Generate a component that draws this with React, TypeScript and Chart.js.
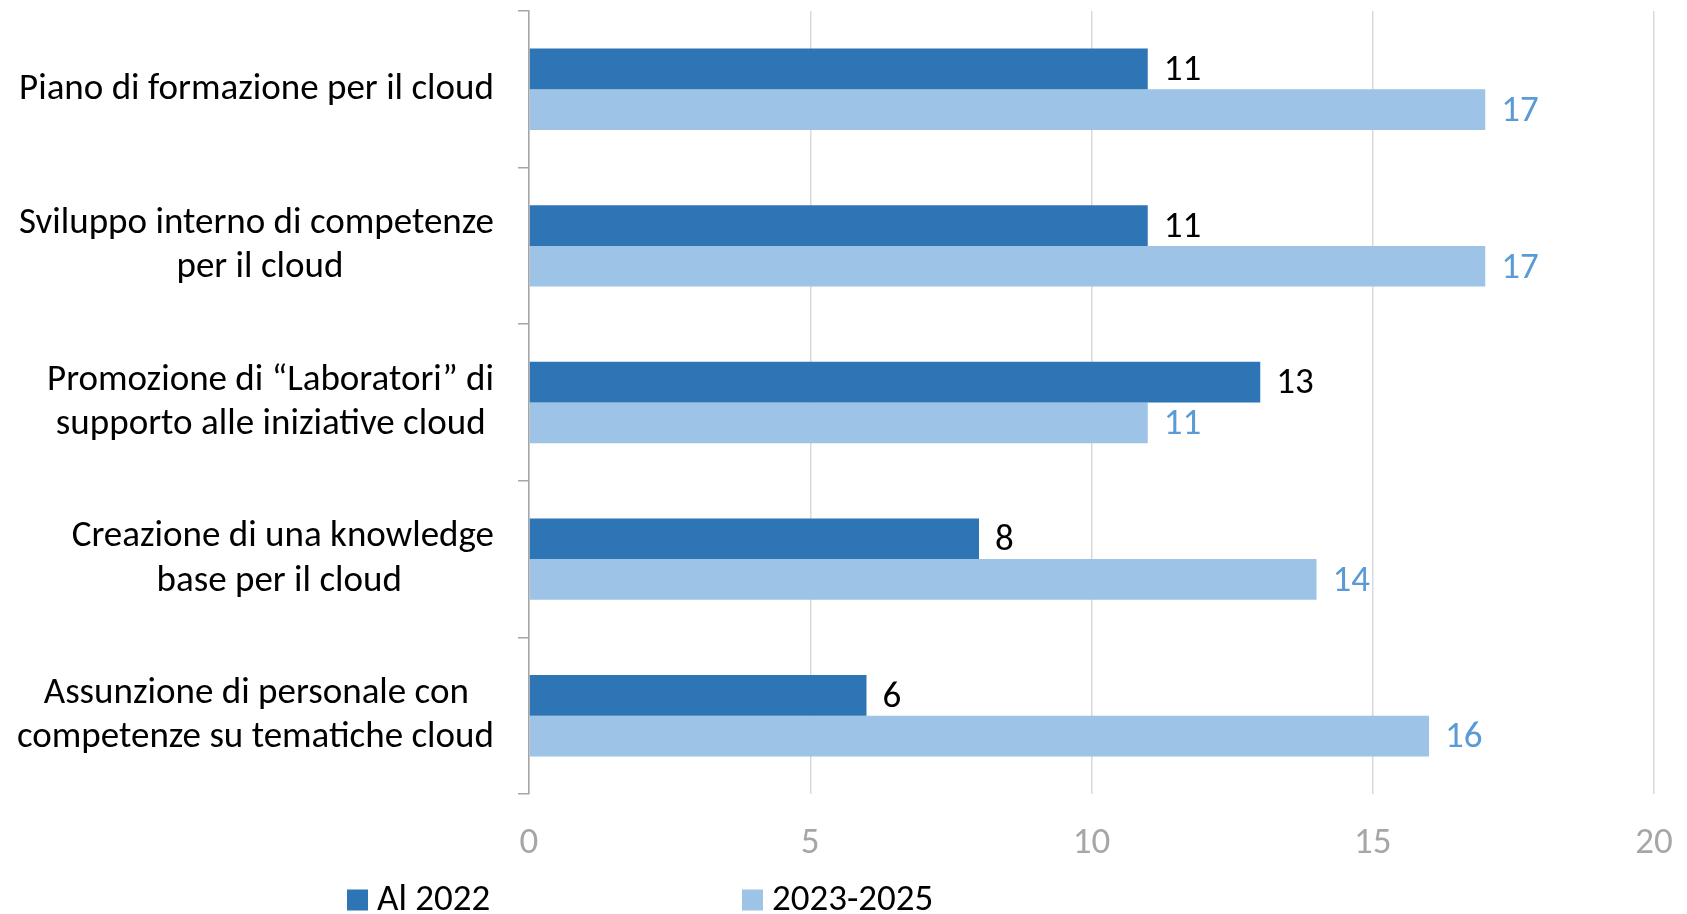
import React, { useEffect, useRef } from "react";
import { Chart, registerables } from "chart.js";

Chart.register(...registerables);

// ---- data ----
const categories: string[][] = [
  ["Piano di formazione per il cloud"],
  ["Sviluppo interno di competenze", "per il cloud"],
  ["Promozione di \u201CLaboratori\u201D di", "supporto alle iniziative cloud"],
  ["Creazione di una knowledge", "base per il cloud"],
  ["Assunzione di personale con", "competenze su tematiche cloud"],
];
const seriesNames = ["Al 2022", "2023-2025"];
const valuesAl2022 = [11, 11, 13, 8, 6];
const values2023_2025 = [17, 17, 11, 14, 16];
const xMin = 0;
const xMax = 20;
const xStep = 5;

// ---- styles ----
const FONT_FAMILY = "Carlito, Calibri, Lato, 'Noto Sans', sans-serif";
const FONT_SIZE = 37;
const DARK = "#2E75B6";
const LIGHT = "#9DC3E6";
const LABEL_COLORS = ["#000000", "#5B9BD5"];
const AXIS_GRAY = "#A6A6A6";
const GRID_GRAY = "#D9D9D9";

function centerLines(lines: string[]): string[] {
  if (lines.length < 2) return lines;
  const c = document.createElement("canvas").getContext("2d")!;
  c.font = `${FONT_SIZE}px ${FONT_FAMILY}`;
  const widths = lines.map((l) => c.measureText(l).width);
  const maxW = Math.max(...widths);
  const spaceW = c.measureText(" ").width || 1;
  return lines.map((l, i) => {
    const n = Math.round((maxW - widths[i]) / 2 / spaceW);
    return l + " ".repeat(Math.max(0, n));
  });
}

const valueLabels = {
  id: "valueLabels",
  afterDatasetsDraw(chart: any) {
    const ctx = chart.ctx;
    chart.data.datasets.forEach((ds: any, i: number) => {
      const meta = chart.getDatasetMeta(i);
      meta.data.forEach((bar: any, j: number) => {
        ctx.save();
        ctx.font = `${FONT_SIZE}px ${FONT_FAMILY}`;
        ctx.fillStyle = LABEL_COLORS[i];
        ctx.textAlign = "left";
        ctx.textBaseline = "middle";
        ctx.fillText(String(ds.data[j]), bar.x + 16, bar.y + 2);
        ctx.restore();
      });
    });
  },
};

const bottomLegend = {
  id: "bottomLegend",
  afterDraw(chart: any) {
    const ctx = chart.ctx;
    const starts = [347, 742];
    const box = 21;
    const cy = 900;
    chart.data.datasets.forEach((ds: any, i: number) => {
      ctx.save();
      ctx.fillStyle = ds.backgroundColor;
      ctx.fillRect(starts[i], cy - box / 2, box, box);
      ctx.font = `${FONT_SIZE}px ${FONT_FAMILY}`;
      ctx.fillStyle = "#000000";
      ctx.textAlign = "left";
      ctx.textBaseline = "middle";
      ctx.fillText(ds.label, starts[i] + box + 9, cy + 1);
      ctx.restore();
    });
  },
};

export default function App() {
  const ref = useRef<HTMLCanvasElement | null>(null);

  useEffect(() => {
    if (!ref.current) return;
    const labels = categories.map((c) => centerLines(c));
    const chart = new Chart(ref.current, {
      type: "bar",
      data: {
        labels,
        datasets: [
          {
            label: seriesNames[0],
            data: valuesAl2022,
            backgroundColor: DARK,
            borderWidth: 0,
            categoryPercentage: 0.52,
            barPercentage: 1,
          },
          {
            label: seriesNames[1],
            data: values2023_2025,
            backgroundColor: LIGHT,
            borderWidth: 0,
            categoryPercentage: 0.52,
            barPercentage: 1,
          },
        ],
      },
      options: {
        indexAxis: "y",
        animation: false,
        responsive: true,
        maintainAspectRatio: false,
        layout: { padding: { top: 11, right: 33, left: 0, bottom: 0 } },
        plugins: {
          legend: { display: false },
          tooltip: { enabled: false },
          title: { display: false },
        },
        scales: {
          x: {
            type: "linear",
            min: xMin,
            max: xMax,
            ticks: {
              stepSize: xStep,
              color: AXIS_GRAY,
              font: { family: FONT_FAMILY, size: FONT_SIZE },
              padding: 28,
            },
            grid: {
              color: GRID_GRAY,
              lineWidth: 1.5,
              drawTicks: false,
            },
            border: { display: false },
            afterFit: (scale: any) => {
              scale.height = 120;
              scale.paddingLeft = 0;
              scale.paddingRight = 0;
            },
          },
          y: {
            ticks: {
              color: "#000000",
              font: { family: FONT_FAMILY, size: FONT_SIZE, lineHeight: 1.2 },
              padding: 24,
              crossAlign: "near",
            },
            grid: {
              offset: true,
              drawOnChartArea: false,
              drawTicks: true,
              tickLength: 11,
              color: AXIS_GRAY,
              lineWidth: 1.5,
            },
            border: { display: true, color: AXIS_GRAY, width: 1.5 },
            afterFit: (scale: any) => {
              scale.width = 529;
              scale.paddingTop = 0;
              scale.paddingBottom = 0;
            },
          },
        },
      },
      plugins: [valueLabels, bottomLegend],
    });
    return () => chart.destroy();
  }, []);

  return (
    <div style={{ position: "absolute", left: 0, top: 0, width: 1687, height: 914, background: "#ffffff" }}>
      <canvas ref={ref} />
    </div>
  );
}
